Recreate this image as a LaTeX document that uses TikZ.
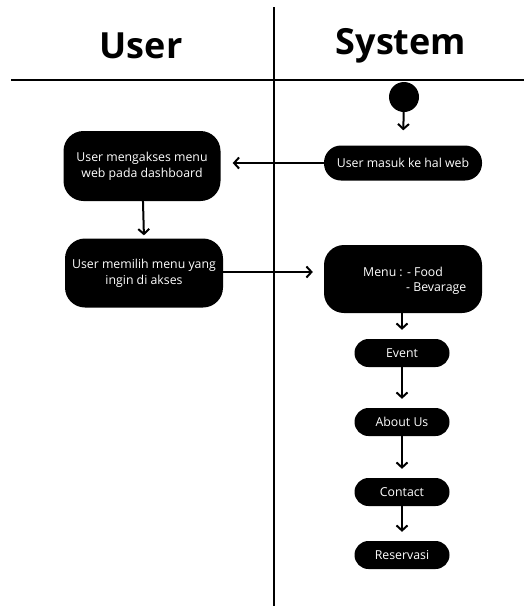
\documentclass[tikz,border=0pt]{standalone}
\usepackage{fontspec}
\setmainfont{Open Sans}
\usetikzlibrary{arrows.meta}
\tikzset{
  lane/.style={line width=2pt},
  flow/.style={line width=2pt,-{Straight Barb[length=5pt,width=11pt,line width=2pt]}},
  act/.style={fill=black,text=white,inner sep=0pt,align=center,font=\fontsize{12.3}{16}\selectfont},
  bigact/.style={act,rounded corners=20pt},
  pill/.style={act,rounded corners=14pt,minimum width=95pt,minimum height=28pt},
  title/.style={font=\fontsize{36}{42}\bfseries\selectfont}
}
\begin{document}
\begin{tikzpicture}[x=1pt,y=-1pt]
\useasboundingbox (0,0) rectangle (524,606);
\coordinate (vt) at (274,7);
\coordinate (vb) at (274,606);
\coordinate (hl) at (11,80);
\coordinate (hr) at (524,80);
\draw[lane] (vt) -- (vb);
\draw[lane] (hl) -- (hr);
\node[title] (tu) at (141,46) {User};
\node[title] (ts) at (401,46) {System};
\node[circle,fill=black,minimum size=30pt,inner sep=0pt] (start) at (404,97) {};
\node[act,rounded corners=17pt,minimum width=158pt,minimum height=35pt] (masuk) at (403,163) {User masuk ke hal web};
\node[bigact,minimum width=157pt,minimum height=70pt] (akses) at (142,166) {User mengakses menu\\web pada dashboard};
\node[bigact,minimum width=158pt,minimum height=69pt] (pilih) at (144,273) {User memilih menu yang\\ingin di akses};
\node[bigact,minimum width=158pt,minimum height=68pt] (menu) at (403,279) {};
\node[font=\fontsize{12.3}{16}\selectfont,text=white,anchor=west,inner sep=0pt] (mtext1) at (363,272) {Menu : - Food};
\node[font=\fontsize{12.3}{16}\selectfont,text=white,anchor=west,inner sep=0pt] (mtext2) at (406,289) {- Bevarage};
\node[pill] (event) at (402,353) {Event};
\node[pill] (about) at (402,422) {About Us};
\node[pill] (contact) at (402,492) {Contact};
\node[pill] (reserv) at (402,555) {Reservasi};
\draw[flow,shorten >=15pt] (start) -- (masuk.north);
\draw[flow] (masuk.west) -- ([xshift=12pt]akses.east |- masuk.west);
\draw[flow,shorten >=3pt] (akses) -- (pilih.north);
\draw[flow] (pilih.east |- 0,272) -- ([xshift=-11pt]menu.west |- 0,272);
\draw[flow,shorten >=9pt] (menu.south -| event) -- (event.north);
\draw[flow,shorten >=9pt] (event) -- (about.north);
\draw[flow,shorten >=9pt] (about) -- (contact.north);
\draw[flow,shorten >=9pt] (contact) -- (reserv.north);
\end{tikzpicture}
\end{document}
